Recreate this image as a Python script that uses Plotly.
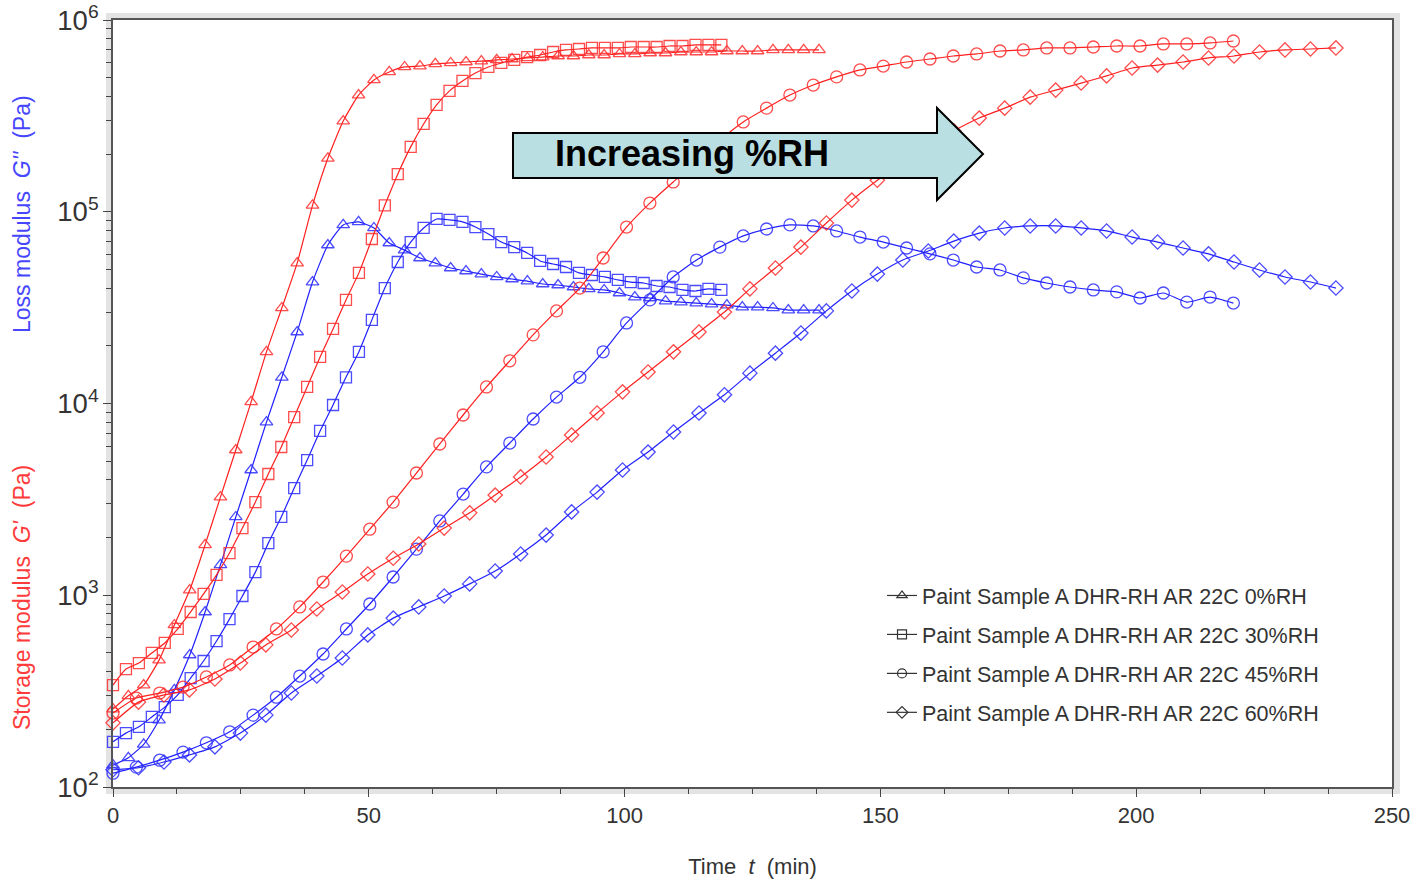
import numpy as np
import plotly.graph_objects as go

# ---------------- data ----------------
# sampling times (min)
t_0rh = [3 * i for i in range(47)]                      # 0 .. 138
t_30rh = [round(2.53 * i, 2) for i in range(48)]        # 0 .. ~119
t_45rh = [round(4.5625 * i, 2) for i in range(49)]      # 0 .. 219
t_60rh = [round(4.98 * i, 2) for i in range(49)]        # 0 .. ~239

# storage modulus G' (Pa)
gp_0rh = [255, 299, 340, 459, 700, 1064, 1830, 3250, 5720, 10200, 18600, 31500, 54000,
          108000, 190000, 297000, 406000, 487000, 536000, 569000, 575000, 590000, 597000,
          604000, 611000, 619000, 626000, 634000, 641000, 649000, 649000, 657000, 657000,
          665000, 665000, 673000, 673000, 681000, 681000, 681000, 689000, 689000, 689000,
          698000, 698000, 698000, 698000]
gp_30rh = [340, 412, 443, 500, 564, 667, 818, 1016, 1277, 1660, 2240, 3060, 4290, 5930,
           8500, 12200, 17500, 24500, 34700, 48000, 72100, 108000, 157000, 218000, 287000,
           361000, 427000, 481000, 529000, 569000, 597000, 619000, 641000, 657000, 681000,
           698000, 706000, 715000, 715000, 715000, 723000, 723000, 723000, 732000, 732000,
           741000, 741000, 741000]
gp_45rh = [243, 291, 309, 332, 375, 433, 537, 667, 869, 1172, 1600, 2210, 3060, 4340, 6150,
           8710, 12200, 16700, 22800, 30400, 40000, 57400, 83200, 111000, 143000, 182000,
           236000, 294000, 347000, 406000, 458000, 505000, 549000, 575000, 604000, 626000,
           649000, 665000, 689000, 698000, 715000, 715000, 723000, 732000, 732000, 750000,
           750000, 759000, 777000]
gp_60rh = [216, 277, 302, 321, 366, 443, 551, 659, 848, 1040, 1290, 1560, 1850, 2240, 2690,
           3330, 4140, 5260, 6850, 8920, 11500, 14600, 18600, 23600, 30000, 39600, 50900,
           65400, 87400, 115000, 146000, 182000, 220000, 264000, 308000, 347000, 396000,
           431000, 469000, 511000, 562000, 582000, 604000, 634000, 649000, 681000, 698000,
           706000, 715000]

# loss modulus G'' (Pa)
gpp_0rh = [130, 142, 167, 223, 321, 488, 818, 1440, 2560, 4500, 8000, 13700, 23600, 43000,
           67100, 85400, 88500, 82300, 68700, 63100, 57400, 54000, 50900, 49100, 47300,
           45700, 44600, 43500, 42000, 41500, 40500, 39600, 39100, 37700, 35900, 35500,
           34200, 33800, 33400, 33000, 32600, 31800, 31800, 31500, 30700, 30700, 30700]
gpp_30rh = [172, 191, 206, 232, 261, 302, 370, 454, 577, 751, 991, 1320, 1870, 2560, 3620,
            5070, 7190, 9820, 13700, 18600, 27300, 40000, 54700, 69500, 82300, 91700, 90600,
            88500, 83200, 76500, 69500, 65400, 61000, 55400, 53400, 51500, 48000, 46800,
            45700, 44100, 43000, 42500, 41000, 40500, 39100, 38600, 39600, 39100]
gpp_45rh = [118, 127, 138, 152, 170, 194, 237, 294, 379, 494, 667, 900, 1245, 1740, 2440,
            3370, 4670, 6220, 8300, 10800, 13700, 18600, 26300, 34700, 45700, 56000, 65400,
            74800, 81300, 85400, 84300, 79400, 73800, 69500, 64700, 60300, 56000, 51500,
            49700, 45200, 42500, 40500, 39100, 38200, 35500, 37700, 33800, 35900, 33400]
gpp_60rh = [123, 126, 135, 147, 162, 191, 237, 309, 379, 471, 621, 760, 869, 991, 1146,
            1337, 1640, 2060, 2720, 3450, 4500, 5580, 7100, 8920, 11100, 14400, 18300, 23300,
            30400, 38600, 47300, 56000, 62400, 70300, 77400, 82300, 84300, 84300, 82300,
            79400, 73800, 69500, 64700, 60300, 54700, 49700, 45700, 43000, 40000]

series_names = ["Paint Sample A DHR-RH AR 22C 0%RH",
                "Paint Sample A DHR-RH AR 22C 30%RH",
                "Paint Sample A DHR-RH AR 22C 45%RH",
                "Paint Sample A DHR-RH AR 22C 60%RH"]
symbols = ["triangle-up-open", "square-open", "circle-open", "diamond-open"]
sizes = [11, 11, 12, 11]

times = [t_0rh, t_30rh, t_45rh, t_60rh]
gp = [gp_0rh, gp_30rh, gp_45rh, gp_60rh]
gpp = [gpp_0rh, gpp_30rh, gpp_45rh, gpp_60rh]

RED_LINE = "#ff1f1f"
RED_MK = "rgba(255,45,45,0.85)"
BLUE_LINE = "#2020ff"
BLUE_MK = "rgba(45,45,255,0.85)"
FONT = "Liberation Sans, Arial, sans-serif"

fig = go.Figure()

for i in range(4):
    fig.add_trace(go.Scatter(
        x=times[i], y=gp[i], mode="lines+markers", showlegend=False, cliponaxis=False,
        line=dict(color=RED_LINE, width=1.2, shape="spline", smoothing=0.5),
        marker=dict(symbol=symbols[i], size=sizes[i], color=RED_MK,
                    line=dict(color=RED_MK, width=1.3)),
        name=series_names[i] + " G'"))
    fig.add_trace(go.Scatter(
        x=times[i], y=gpp[i], mode="lines+markers", showlegend=False, cliponaxis=False,
        line=dict(color=BLUE_LINE, width=1.2, shape="spline", smoothing=0.5),
        marker=dict(symbol=symbols[i], size=sizes[i], color=BLUE_MK,
                    line=dict(color=BLUE_MK, width=1.3)),
        name=series_names[i] + " G''"))

# legend entries (black symbols)
for i in range(4):
    fig.add_trace(go.Scatter(
        x=[None], y=[None], mode="lines+markers", name=series_names[i],
        legendgroup="g%d" % i,
        line=dict(color="#333333", width=1.2),
        marker=dict(symbol=symbols[i], size=9, color="#333333",
                    line=dict(color="#333333", width=1.2))))

# ---------------- layout helpers (window pixel -> paper) ----------------
L, R, T, B = 113, 1392, 20, 787  # plot area in window pixels
W, H = R - L, B - T
FIG_W, FIG_H = 1414, 879


def px(x):
    return (x - L) / W


def py(y):
    return (B - y) / H


arrow_pts = [(513, 133), (937, 133), (937, 108), (983, 154), (937, 200), (937, 178), (513, 178)]
arrow_path = "M " + " L ".join("%.5f,%.5f" % (px(a), py(b)) for a, b in arrow_pts) + " Z"

band = "#e3e3e3"


def rect(x0, y0, x1, y1):
    return dict(type="rect", xref="paper", yref="paper", layer="below",
                x0=px(x0), x1=px(x1), y0=py(y1), y1=py(y0),
                fillcolor=band, line=dict(width=0))


fig.update_layout(
    width=FIG_W, height=FIG_H,
    margin=dict(l=L, r=FIG_W - R, t=T, b=FIG_H - B),
    paper_bgcolor="white", plot_bgcolor="white",
    font=dict(family=FONT, color="#333333"),
    showlegend=True,
    legend=dict(x=px(882), y=py(575), xanchor="left", yanchor="top",
                font=dict(size=21.5, color="#333333", family=FONT),
                bgcolor="rgba(0,0,0,0)", itemwidth=30, tracegroupgap=8,
                traceorder="grouped"),
    xaxis=dict(range=[0, 250], dtick=50, ticks="outside", ticklen=8, tickwidth=1.2,
               tickcolor="#444444", showline=True, linecolor="#555555", linewidth=2,
               mirror=True, showgrid=False, zeroline=False, ticklabeloverflow="allow",
               minor=dict(dtick=12.5, ticks="outside", ticklen=5, tickcolor="#444444",
                          tickwidth=1.2, showgrid=False),
               tickfont=dict(size=22, color="#333333", family=FONT),
               title=dict(text="Time  <i>t</i>  (min)", standoff=31,
                          font=dict(size=22, color="#333333", family=FONT)),
               automargin=False),
    yaxis=dict(type="log", range=[2, 6], dtick=1, exponentformat="power",
               ticks="outside", ticklen=8, tickwidth=1.2, tickcolor="#444444",
               showline=True, linecolor="#555555", linewidth=2, mirror=True,
               showgrid=False, zeroline=False, ticklabeloverflow="allow",
               minor=dict(dtick="D1", ticks="outside", ticklen=5, tickcolor="#444444",
                          tickwidth=1.2, showgrid=False),
               tickfont=dict(size=22, color="#333333", family=FONT),
               automargin=False),
    shapes=[
        rect(106, 13, 1400, 20),
        rect(106, 787, 1400, 794),
        rect(106, 13, 113, 794),
        rect(1392, 13, 1400, 794),
        dict(type="path", xref="paper", yref="paper", path=arrow_path,
             fillcolor="#b9dfe2", line=dict(color="black", width=2), layer="above"),
    ],
    annotations=[
        dict(text="<b>Increasing %RH</b>", xref="paper", yref="paper",
             x=px(692), y=py(153), showarrow=False, xanchor="center", yanchor="middle",
             font=dict(size=36, color="black", family=FONT)),
        dict(text="Storage modulus  <i>G'</i>  (Pa)", xref="paper", yref="paper",
             x=px(22), y=py(598), textangle=-90, showarrow=False,
             xanchor="center", yanchor="middle",
             font=dict(size=23, color="#ff3b3b", family=FONT)),
        dict(text="Loss modulus  <i>G''</i>  (Pa)", xref="paper", yref="paper",
             x=px(22), y=py(214), textangle=-90, showarrow=False,
             xanchor="center", yanchor="middle",
             font=dict(size=23, color="#4646ff", family=FONT)),
    ],
)

fig.write_html(
    "out.html",
    config={"displayModeBar": False},
    post_script="document.body.style.margin='0';"
                "document.documentElement.style.overflow='hidden';"
                "document.body.style.overflow='hidden';")
